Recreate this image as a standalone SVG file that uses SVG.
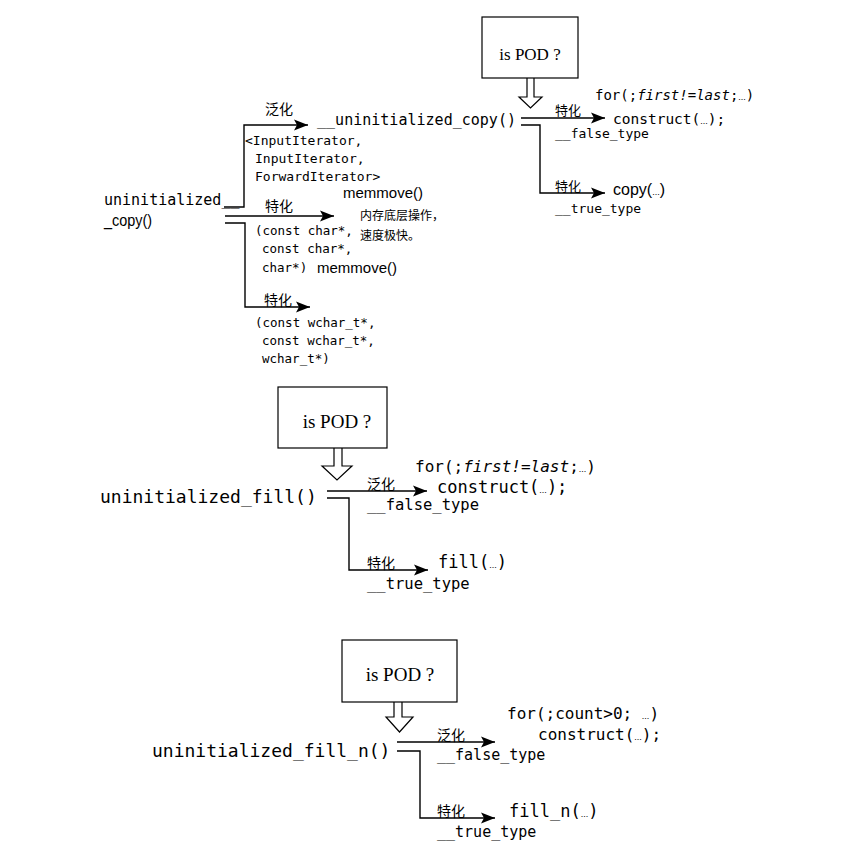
<svg xmlns="http://www.w3.org/2000/svg" width="851" height="850" viewBox="0 0 851 850">
<defs>
<style>
text{fill:#000}
.m{font-family:"DejaVu Sans Mono",monospace}
.s{font-family:"Liberation Sans",Arial,sans-serif}
.cj{font-family:"Noto Sans CJK SC","Noto Sans CJK JP",sans-serif}
.pod{font-family:"Liberation Serif","Times New Roman",serif}
.ln{fill:none;stroke:#000;stroke-width:1.4}
.box{fill:#fff;stroke:#000;stroke-width:1.2}
.hol{fill:#fff;stroke:#000;stroke-width:1.2;stroke-linejoin:miter}
.dots{font-family:"Liberation Sans",Arial,sans-serif;font-size:9px}
.it{font-style:italic}
</style>
<marker id="ah" markerUnits="userSpaceOnUse" markerWidth="16" markerHeight="12" refX="14" refY="6" orient="auto">
<path d="M0,0.5 L14,6 L0,11.5 L3,6 z" fill="#000"/>
</marker>
</defs>
<rect width="851" height="850" fill="#fff"/>

<g id="connectors">
<!-- top: uninitialized_copy -->
<path class="ln" d="M224,207 H244 V125 H308" marker-end="url(#ah)"/>
<path class="ln" d="M225,216 H334" marker-end="url(#ah)"/>
<path class="ln" d="M225,223 H245 V307 H310" marker-end="url(#ah)"/>
<path class="ln" d="M521,118 H605" marker-end="url(#ah)"/>
<path class="ln" d="M521,125 H540 V193 H605" marker-end="url(#ah)"/>
<path class="hol" d="M527,78 V97 H519 L530.5,108 L542,97 H534 V78"/>
<!-- middle: uninitialized_fill -->
<path class="ln" d="M327,491 H427" marker-end="url(#ah)"/>
<path class="ln" d="M327,498 H349 V570 H428" marker-end="url(#ah)"/>
<path class="hol" d="M334,448 V466 H322 L337,480 L352,466 H342 V448"/>
<!-- bottom: uninitialized_fill_n -->
<path class="ln" d="M397,742 H495" marker-end="url(#ah)"/>
<path class="ln" d="M397,751 H420 V818 H495" marker-end="url(#ah)"/>
<path class="hol" d="M394,702 V717 H386 L399.5,732 L413,717 H402 V702"/>
</g>

<!-- labels on connectors -->
<g id="labels">
<text class="cj" x="265" y="114" font-size="14">泛化</text>
<text class="cj" x="265" y="211" font-size="14">特化</text>
<text class="cj" x="264" y="305" font-size="14">特化</text>
<text class="m" x="245" y="145" font-size="13">&lt;InputIterator,</text>
<text class="m" x="255" y="163" font-size="13">InputIterator,</text>
<text class="m" x="255" y="181" font-size="13">ForwardIterator&gt;</text>
<text class="m" x="255" y="235" font-size="12.5">(const char*,</text>
<text class="m" x="262" y="253" font-size="12.5">const char*,</text>
<text class="m" x="262" y="272" font-size="12.5">char*)</text>
<text class="m" x="255" y="327" font-size="12.5">(const wchar_t*,</text>
<text class="m" x="262" y="345" font-size="12.5">const wchar_t*,</text>
<text class="m" x="262" y="363" font-size="12.5">wchar_t*)</text>
<text class="cj" x="555" y="115" font-size="13">特化</text>
<text class="m" x="555" y="138" font-size="13">__false_type</text>
<text class="cj" x="555" y="191" font-size="13">特化</text>
<text class="m" x="555" y="213" font-size="13">__true_type</text>
<text class="cj" x="367" y="489" font-size="14">泛化</text>
<text class="m" x="367" y="510" font-size="15.5">__false_type</text>
<text class="cj" x="367" y="568" font-size="14">特化</text>
<text class="m" x="367" y="589" font-size="15.5">__true_type</text>
<text class="cj" x="437" y="740" font-size="14">泛化</text>
<text class="m" x="437" y="760" font-size="15">__false_type</text>
<text class="cj" x="437" y="816" font-size="14">特化</text>
<text class="m" x="437" y="837" font-size="15">__true_type</text>
</g>

<g id="node-uninitialized-copy">
<text class="m" x="104" y="205" font-size="15">uninitialized__</text>
<text class="s" x="104" y="226" font-size="16" textLength="48" lengthAdjust="spacingAndGlyphs">_copy()</text>
</g>

<g id="node-uninitialized-copy-impl">
<text class="m" x="317" y="125" font-size="15" textLength="199" lengthAdjust="spacingAndGlyphs">__uninitialized_copy()</text>
</g>

<g id="node-memmove-char">
<text class="s" x="343" y="198" font-size="15">memmove()</text>
<text class="cj" x="360" y="220" font-size="12">内存底层操作，</text>
<text class="cj" x="360" y="240" font-size="12">速度极快。</text>
</g>

<g id="node-memmove-wchar">
<text class="s" x="317" y="273" font-size="15">memmove()</text>
</g>

<g id="node-ispod-1">
<rect class="box" x="482" y="17" width="96" height="61"/>
<text class="pod" x="530" y="60" font-size="17" text-anchor="middle">is POD ?</text>
</g>

<g id="node-construct-1">
<text class="m" x="595" y="100" font-size="14">for(;<tspan class="it">first!=last</tspan>;<tspan class="dots">...</tspan>)</text>
<text class="m" x="613" y="124" font-size="14.5">construct(<tspan class="dots">...</tspan>);</text>
</g>

<g id="node-copy">
<text class="s" x="613" y="195" font-size="16">copy(<tspan class="dots">...</tspan>)</text>
</g>

<g id="node-uninitialized-fill">
<text class="m" x="100" y="503" font-size="18">uninitialized_fill()</text>
</g>

<g id="node-ispod-2">
<rect class="box" x="278" y="387" width="109" height="61"/>
<text class="pod" x="337" y="428" font-size="19" text-anchor="middle">is POD ?</text>
</g>

<g id="node-construct-2">
<text class="m" x="415" y="472" font-size="16">for(;<tspan class="it">first!=last</tspan>;<tspan class="dots">...</tspan>)</text>
<text class="m" x="437" y="493" font-size="17">construct(<tspan class="dots">...</tspan>);</text>
</g>

<g id="node-fill">
<text class="m" x="438" y="568" font-size="17">fill(<tspan class="dots">...</tspan>)</text>
</g>

<g id="node-uninitialized-fill-n">
<text class="m" x="152" y="757" font-size="18">uninitialized_fill_n()</text>
</g>

<g id="node-ispod-3">
<rect class="box" x="342" y="640" width="115" height="62"/>
<text class="pod" x="400" y="681" font-size="19" text-anchor="middle">is POD ?</text>
</g>

<g id="node-construct-3">
<text class="m" x="507" y="719" font-size="16">for(;count&gt;0; <tspan class="dots">...</tspan>)</text>
<text class="m" x="538" y="740" font-size="16">construct(<tspan class="dots">...</tspan>);</text>
</g>

<g id="node-fill-n">
<text class="m" x="509" y="817" font-size="17">fill_n(<tspan class="dots">...</tspan>)</text>
</g>
</svg>
